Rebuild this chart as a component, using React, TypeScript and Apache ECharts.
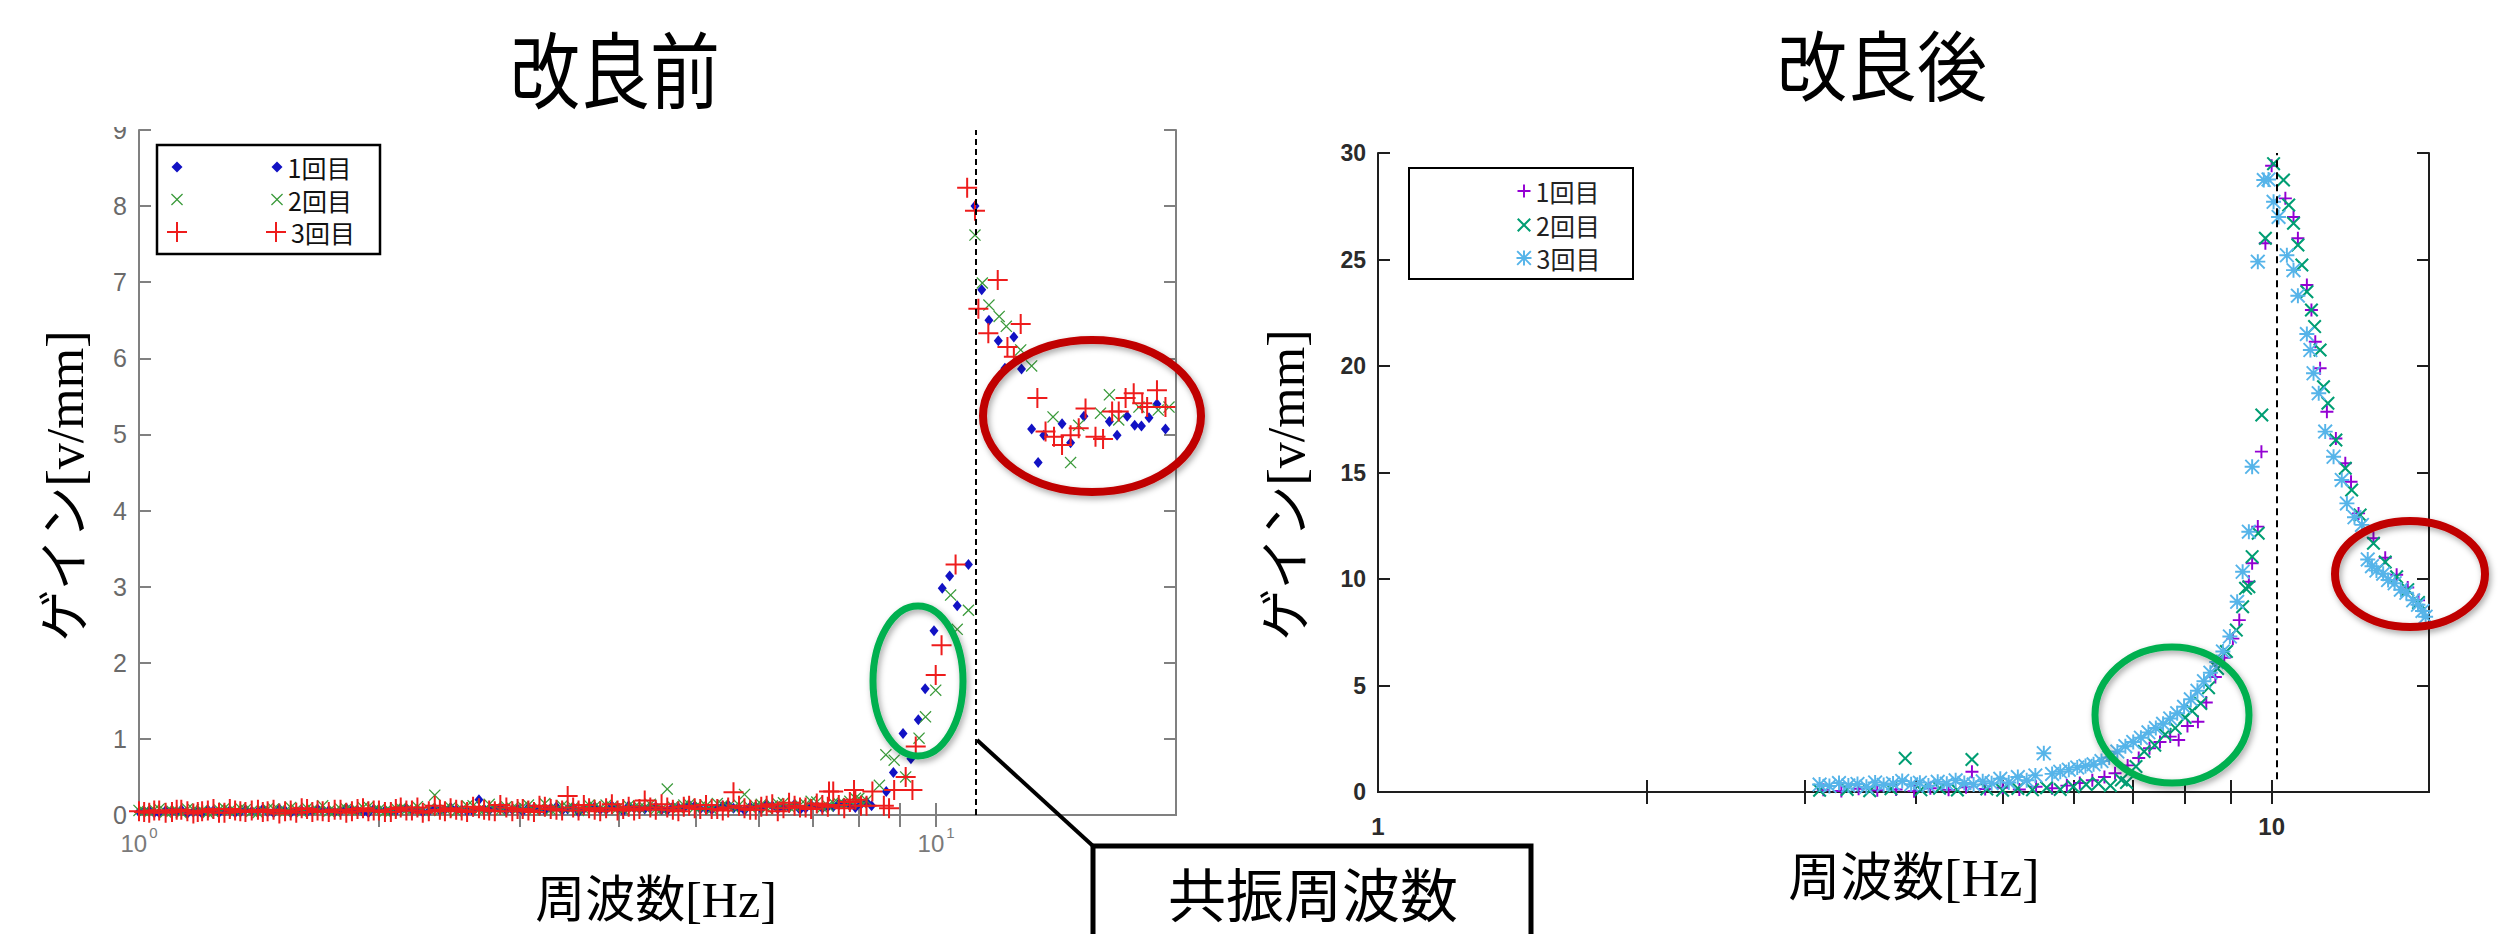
import React, { useEffect, useRef } from 'react';
import * as echarts from 'echarts';

// ================= 改良前 (left chart) =================
const leftLowFreq = [
  1.0, 1.03, 1.06, 1.1, 1.13, 1.17, 1.2, 1.24, 1.28, 1.32, 1.36, 1.41, 1.45, 1.5, 1.55, 1.6, 1.65, 1.7, 1.76, 1.82,
  1.88, 1.94, 2.0, 2.07, 2.13, 2.2, 2.27, 2.35, 2.42, 2.5, 2.58, 2.67, 2.75, 2.84, 2.94, 3.03, 3.13, 3.23, 3.34, 3.45,
  3.56, 3.67, 3.79, 3.92, 4.05, 4.18, 4.31, 4.45, 4.6, 4.75, 4.9, 5.06, 5.23, 5.4, 5.57, 5.75, 5.94, 6.13, 6.33, 6.54,
  6.75, 6.97, 7.2, 7.43, 7.67, 7.92, 8.18,
];
const leftBlueLow = [
  0.04, 0.06, 0.03, 0.05, 0.07, 0.04, 0.02, 0.06, 0.05, 0.03, 0.07, 0.05, 0.04, 0.08, 0.03, 0.06, 0.05, 0.07, 0.04, 0.09,
  0.06, 0.03, 0.07, 0.05, 0.08, 0.06, 0.04, 0.09, 0.07, 0.07, 0.05, 0.2, 0.06, 0.1, 0.07, 0.05, 0.09, 0.06, 0.11, 0.08,
  0.04, 0.1, 0.07, 0.12, 0.05, 0.09, 0.08, 0.11, 0.06, 0.1, 0.13, 0.08, 0.07, 0.12, 0.09, 0.06, 0.11, 0.14, 0.08, 0.1,
  0.07, 0.13, 0.09, 0.11, 0.15, 0.1, 0.17,
];
const leftGreenLow = [
  0.06, 0.04, 0.08, 0.05, 0.03, 0.07, 0.06, 0.04, 0.09, 0.05, 0.07, 0.03, 0.08, 0.06, 0.1, 0.04, 0.07, 0.12, 0.05, 0.08,
  0.06, 0.11, 0.07, 0.05, 0.09, 0.07, 0.06, 0.26, 0.08, 0.05, 0.12, 0.07, 0.14, 0.06, 0.09, 0.11, 0.07, 0.15, 0.08, 0.1,
  0.06, 0.13, 0.09, 0.11, 0.07, 0.1, 0.1, 0.08, 0.34, 0.09, 0.14, 0.11, 0.08, 0.13, 0.1, 0.27, 0.12, 0.09, 0.15, 0.11,
  0.13, 0.18, 0.1, 0.16, 0.14, 0.22, 0.19,
];
const leftRedLow = [
  0.05, 0.03, 0.06, 0.04, 0.07, 0.02, 0.05, 0.08, 0.03, 0.06, 0.04, 0.07, 0.05, 0.02, 0.06, 0.09, 0.04, 0.05, 0.07, 0.03,
  0.08, 0.05, 0.06, 0.04, 0.1, 0.06, 0.03, 0.12, 0.05, 0.07, 0.04, 0.09, 0.06, 0.13, 0.05, 0.08, 0.04, 0.11, 0.07, 0.25,
  0.06, 0.09, 0.05, 0.14, 0.08, 0.06, 0.19, 0.07, 0.1, 0.05, 0.12, 0.08, 0.08, 0.06, 0.3, 0.09, 0.07, 0.12, 0.05, 0.16,
  0.1, 0.08, 0.13, 0.31, 0.09, 0.2, 0.12,
];
// second, interleaved sweep of the low range (denser band near zero)
const leftLowFreqB = [
  1.015, 1.045, 1.08, 1.115, 1.15, 1.185, 1.22, 1.26, 1.3, 1.34, 1.385, 1.43, 1.475, 1.525, 1.575, 1.625, 1.675, 1.73,
  1.79, 1.85, 1.91, 1.97, 2.035, 2.1, 2.165, 2.235, 2.31, 2.385, 2.46, 2.54, 2.625, 2.71, 2.795, 2.89, 2.985, 3.08,
  3.18, 3.285, 3.395, 3.505, 3.615, 3.73, 3.855, 3.985, 4.115, 4.245, 4.38, 4.525, 4.675, 4.825, 4.98, 5.145, 5.315,
  5.485, 5.66, 5.845, 6.035, 6.23, 6.435, 6.645, 6.86, 7.085, 7.315, 7.55, 7.795, 8.05,
];
const leftBlueLowB = [
  0.05, 0.03, 0.06, 0.04, 0.02, 0.05, 0.07, 0.03, 0.06, 0.04, 0.05, 0.08, 0.03, 0.06, 0.05, 0.04, 0.08, 0.06, 0.05, 0.07,
  0.04, 0.08, 0.06, 0.05, 0.09, 0.07, 0.05, 0.06, 0.1, 0.07, 0.05, 0.08, 0.09, 0.06, 0.08, 0.1, 0.07, 0.09, 0.06, 0.1,
  0.08, 0.11, 0.07, 0.09, 0.12, 0.08, 0.1, 0.07, 0.11, 0.09, 0.12, 0.08, 0.1, 0.13, 0.09, 0.11, 0.08, 0.12, 0.1, 0.14,
  0.09, 0.12, 0.11, 0.15, 0.12, 0.14,
];
const leftGreenLowB = [
  0.05, 0.07, 0.04, 0.06, 0.08, 0.05, 0.03, 0.07, 0.06, 0.09, 0.05, 0.06, 0.08, 0.05, 0.07, 0.09, 0.06, 0.05, 0.08, 0.06,
  0.1, 0.07, 0.05, 0.09, 0.07, 0.11, 0.08, 0.06, 0.1, 0.08, 0.12, 0.07, 0.09, 0.11, 0.08, 0.13, 0.09, 0.07, 0.12, 0.1,
  0.08, 0.11, 0.13, 0.09, 0.12, 0.1, 0.14, 0.08, 0.11, 0.13, 0.1, 0.12, 0.15, 0.11, 0.13, 0.1, 0.14, 0.12, 0.16, 0.11,
  0.14, 0.17, 0.12, 0.15, 0.18, 0.16,
];
const leftRedLowB = [
  0.04, 0.06, 0.03, 0.07, 0.05, 0.04, 0.06, 0.03, 0.08, 0.05, 0.06, 0.04, 0.07, 0.05, 0.03, 0.08, 0.06, 0.04, 0.07, 0.05,
  0.09, 0.06, 0.04, 0.08, 0.06, 0.1, 0.05, 0.07, 0.09, 0.06, 0.11, 0.07, 0.05, 0.1, 0.08, 0.06, 0.12, 0.08, 0.06, 0.1,
  0.13, 0.07, 0.09, 0.06, 0.11, 0.08, 0.1, 0.14, 0.07, 0.11, 0.09, 0.13, 0.08, 0.1, 0.12, 0.07, 0.11, 0.14, 0.09, 0.12,
  0.1, 0.15, 0.11, 0.13, 0.17, 0.12,
];
const leftBlueHigh = [
  [8.3, 0.12], [8.66, 0.31], [8.84, 0.56], [9.09, 1.07], [9.3, 0.74], [9.5, 1.25], [9.69, 1.66], [9.94, 2.42],
  [10.18, 2.98], [10.4, 3.14], [10.63, 2.75], [10.98, 3.29], [11.19, 8.0], [11.41, 6.9], [11.65, 6.5], [11.97, 6.23],
  [12.2, 5.87], [12.52, 6.28], [12.8, 5.86], [13.18, 5.07], [13.43, 4.63], [13.65, 4.99], [14.39, 5.14], [14.75, 4.89],
  [15.33, 5.24], [16.5, 5.17], [16.87, 4.99], [17.37, 5.24], [17.75, 5.12], [18.1, 5.11], [18.5, 5.22], [18.93, 5.4],
  [19.4, 5.07],
];
const leftGreenHigh = [
  [8.0, 0.22], [8.49, 0.39], [8.65, 0.79], [8.86, 0.72], [9.16, 0.5], [9.52, 1.01], [9.7, 1.29], [9.99, 1.64],
  [10.43, 2.89], [10.63, 2.44], [10.98, 2.69], [11.19, 7.62], [11.43, 6.99], [11.65, 6.7], [12.0, 6.55], [12.25, 6.42],
  [12.77, 6.11], [13.18, 5.9], [14.02, 5.23], [14.75, 4.63], [15.1, 5.12], [16.08, 5.28], [16.5, 5.52], [16.95, 5.19],
  [17.97, 5.36], [19.0, 5.32], [19.6, 5.36],
];
const leftRedHigh = [
  [7.34, 0.31], [7.89, 0.33], [8.32, 0.31], [8.6, 0.12], [8.73, 0.09], [8.86, 0.33], [9.16, 0.5], [9.34, 0.33],
  [9.43, 0.9], [9.99, 1.84], [10.16, 2.23], [10.58, 3.29], [10.94, 8.24], [11.19, 7.94], [11.3, 6.65], [11.63, 6.33],
  [11.95, 7.03], [12.29, 6.15], [12.52, 6.02], [12.77, 6.45], [13.4, 5.48], [13.72, 5.04], [14.06, 4.97], [14.39, 4.86],
  [14.75, 4.99], [15.1, 5.08], [15.4, 5.34], [15.85, 4.97], [16.2, 4.94], [16.63, 5.3], [16.95, 5.3], [17.29, 5.48],
  [17.7, 5.54], [18.14, 5.41], [18.4, 5.36], [18.93, 5.58], [19.4, 5.36],
];
const leftResonance = 11.2;
const leftXMin = 1;
const leftXMax = 20;
const leftYMin = 0;
const leftYMax = 9;
const leftYInterval = 1;
const leftXMinorTicks = [2, 3, 4, 5, 6, 7, 8, 9, 10];
const leftXLabelValues = [1, 10];
const leftXLabelExps = ['0', '1'];

// ================= 改良後 (right chart) =================
const rightPurple = [
  [3.15, 0.1], [3.3, 0.05], [3.45, 0.15], [3.62, 0.08], [3.8, 0.12], [3.98, 0.04], [4.15, 0.18], [4.35, 0.1],
  [4.55, 0.22], [4.62, 0.95], [4.78, 0.14], [5.0, 0.2], [5.22, 0.12], [5.45, 0.25], [5.68, 0.18], [5.9, 0.3],
  [6.1, 0.42], [6.3, 0.55], [6.5, 0.7], [6.68, 0.88], [6.9, 1.25], [7.1, 1.6], [7.3, 2.05], [7.5, 2.35], [7.7, 2.6],
  [7.87, 2.44], [8.05, 3.1], [8.27, 3.3], [8.45, 4.2], [8.65, 5.4], [8.85, 6.3], [9.05, 7.2], [9.2, 8.07], [9.43, 9.87],
  [9.51, 10.74], [9.65, 12.46], [9.74, 15.98], [9.84, 25.76], [10.0, 29.4], [10.36, 27.87], [10.58, 27.0],
  [10.7, 26.0], [10.95, 23.8], [11.08, 22.63], [11.19, 21.14], [11.33, 19.89], [11.53, 17.85], [11.8, 16.6],
  [12.09, 15.43], [12.27, 14.57], [12.51, 13.08], [13.0, 11.91], [13.4, 11.0], [13.8, 10.2], [14.2, 9.6], [14.6, 9.0],
];
const rightGreen = [
  [3.12, 0.08], [3.35, 0.12], [3.55, 0.06], [3.75, 0.15], [3.89, 1.58], [4.05, 0.1], [4.25, 0.18], [4.45, 0.09],
  [4.62, 1.53], [4.8, 0.14], [5.0, 0.08], [5.2, 0.16], [5.4, 0.1], [5.6, 0.2], [5.8, 0.12], [6.0, 0.25], [6.2, 0.35],
  [6.4, 0.4], [6.6, 0.3], [6.79, 0.56], [6.88, 0.45], [7.05, 1.2], [7.2, 1.9], [7.4, 2.2], [7.6, 2.7], [7.8, 3.0],
  [8.0, 3.5], [8.15, 3.8], [8.33, 4.16], [8.5, 4.9], [8.7, 5.8], [8.9, 6.6], [9.13, 7.6], [9.28, 8.7], [9.35, 9.56],
  [9.43, 9.64], [9.51, 11.05], [9.66, 12.15], [9.75, 17.7], [9.84, 26.0], [10.05, 29.5], [10.31, 28.73],
  [10.45, 27.56], [10.58, 26.7], [10.7, 25.68], [10.81, 24.74], [10.95, 23.49], [11.08, 22.63], [11.17, 21.85],
  [11.33, 20.75], [11.43, 19.03], [11.56, 18.25], [11.8, 16.53], [12.09, 15.2], [12.29, 14.18], [12.56, 13.0],
  [13.0, 11.68], [13.4, 10.8], [13.8, 10.1], [14.2, 9.5], [14.6, 8.9],
];
const rightBlue = [
  [3.12, 0.35], [3.2, 0.28], [3.28, 0.42], [3.36, 0.31], [3.44, 0.38], [3.52, 0.25], [3.6, 0.45], [3.68, 0.33],
  [3.77, 0.4], [3.86, 0.52], [3.95, 0.36], [4.04, 0.44], [4.13, 0.3], [4.23, 0.48], [4.33, 0.39], [4.43, 0.55],
  [4.53, 0.42], [4.64, 0.35], [4.75, 0.5], [4.86, 0.41], [4.97, 0.62], [5.08, 0.45], [5.2, 0.7], [5.32, 0.55],
  [5.44, 0.78], [5.56, 1.82], [5.68, 0.85], [5.8, 0.95], [5.93, 1.05], [6.06, 1.15], [6.19, 1.22], [6.32, 1.3],
  [6.45, 1.45], [6.58, 1.62], [6.72, 1.9], [6.86, 2.15], [7.0, 2.35], [7.14, 2.55], [7.28, 2.8], [7.42, 3.0],
  [7.56, 3.2], [7.7, 3.45], [7.84, 3.7], [7.98, 4.0], [8.12, 4.35], [8.26, 4.75], [8.4, 5.2], [8.54, 5.6], [8.68, 6.1],
  [8.82, 6.6], [8.98, 7.3], [9.15, 8.93], [9.28, 10.34], [9.43, 12.22], [9.51, 15.27], [9.65, 24.9], [9.8, 28.73],
  [9.92, 28.76], [10.05, 27.71], [10.18, 27.0], [10.4, 25.2], [10.58, 24.5], [10.7, 23.3], [10.95, 21.5],
  [11.05, 20.75], [11.14, 19.66], [11.29, 18.72], [11.48, 16.92], [11.73, 15.74], [11.98, 14.65], [12.14, 13.55],
  [12.38, 12.9], [12.62, 12.54], [12.81, 10.92], [12.95, 10.6], [13.1, 10.4], [13.33, 10.25], [13.5, 9.95],
  [13.73, 9.8], [13.95, 9.5], [14.15, 9.35], [14.4, 9.0], [14.58, 8.79], [14.75, 8.5], [14.87, 8.23],
];
const rightResonance = 10.13;
const rightXMin = 1;
const rightXMax = 15;
const rightYMin = 0;
const rightYMax = 30;
const rightYInterval = 5;
const rightXMinorTicks = [2, 3, 4, 5, 6, 7, 8, 9, 10];
const rightXLabelValues = [1, 10];
const rightXLabels = ['1', '10'];

const seriesLabels = ['1回目', '2回目', '3回目'];

// ================= symbols =================
const plusPath = (w: number) => {
  const a = 10 - w / 2;
  const b = 10 + w / 2;
  return `M${a},0L${b},0L${b},${a}L20,${a}L20,${b}L${b},${b}L${b},20L${a},20L${a},${b}L0,${b}L0,${a}L${a},${a}Z`;
};
const crossPath = (d: number) =>
  `M0,${d}L${d},0L10,${10 - d}L${20 - d},0L20,${d}L${10 + d},10L20,${20 - d}L${20 - d},20L10,${10 + d}L${d},20L0,${20 - d}L${10 - d},10Z`;
const SYM_PLUS_THIN = 'path://' + plusPath(2);
const SYM_CROSS_THIN = 'path://' + crossPath(1.5);
const SYM_PLUS_R = 'path://' + plusPath(3);
const SYM_CROSS_R = 'path://' + crossPath(2.1);
const SYM_STAR_R = 'path://' + plusPath(2.6) + crossPath(1.8);

const LEFT_AXIS_COLOR = '#808080';
const RIGHT_AXIS_COLOR = '#1e1e1e';
const SANS_JP = "'Noto Sans CJK JP', 'Noto Sans', sans-serif";
const SERIF_JP = "'Liberation Serif', 'Noto Sans CJK JP', serif";

function legendItem(name: string, label: string, cx: number, cy: number, size: number, withText: boolean, color: string, fontSize: number) {
  const lh = fontSize + 2;
  const h = withText ? Math.max(size, lh) : size;
  return {
    data: [name],
    orient: 'vertical',
    left: cx - size / 2,
    top: cy - h / 2,
    padding: 0,
    itemGap: 0,
    itemWidth: size,
    itemHeight: size,
    selectedMode: false,
    formatter: withText ? () => label : () => '',
    textStyle: withText
      ? { fontSize, lineHeight: lh, color, fontFamily: SANS_JP }
      : { fontSize: 1, lineHeight: 1, color: 'rgba(0,0,0,0)' },
  };
}

export default function App() {
  const ref = useRef<HTMLDivElement>(null);

  useEffect(() => {
    if (!ref.current) return;
    const chart = echarts.init(ref.current, null, { renderer: 'svg' });

    const l1 = leftLowFreq.map((f, i) => [f, leftBlueLow[i]])
      .concat(leftLowFreqB.map((f, i) => [f, leftBlueLowB[i]]))
      .concat(leftBlueHigh);
    const l2 = leftLowFreq.map((f, i) => [f, leftGreenLow[i]])
      .concat(leftLowFreqB.map((f, i) => [f, leftGreenLowB[i]]))
      .concat(leftGreenHigh);
    const l3 = leftLowFreq.map((f, i) => [f, leftRedLow[i]])
      .concat(leftLowFreqB.map((f, i) => [f, leftRedLowB[i]]))
      .concat(leftRedHigh);

    const leftTick = { show: true, inside: true, length: 12, lineStyle: { color: LEFT_AXIS_COLOR, width: 2 } };
    const rightTick = { show: true, inside: true, length: 12, lineStyle: { color: RIGHT_AXIS_COLOR, width: 2 } };

    const shadow = { shadowBlur: 6, shadowColor: 'rgba(0,0,0,0.35)', shadowOffsetX: 2, shadowOffsetY: 3 };

    const option: any = {
      animation: false,
      backgroundColor: '#ffffff',
      grid: [
        { left: 139, top: 130, width: 1037, height: 685, outerBoundsMode: 'none' },
        { left: 1378, top: 153, width: 1051, height: 639, outerBoundsMode: 'none' },
      ],
      xAxis: [
        {
          type: 'log', logBase: 10, gridIndex: 0, position: 'bottom', min: leftXMin, max: leftXMax,
          axisLine: { show: true, lineStyle: { color: LEFT_AXIS_COLOR, width: 2 } },
          axisTick: { ...leftTick, customValues: leftXMinorTicks },
          axisLabel: {
            customValues: leftXLabelValues,
            margin: 10,
            formatter: (v: number) => {
              const i = leftXLabelValues.findIndex((x) => Math.abs(x - v) < 1e-6);
              return `{b|10}{s|${i >= 0 ? leftXLabelExps[i] : ''}}`;
            },
            rich: {
              b: { fontSize: 24, color: '#7a7a7a', fontFamily: 'Liberation Sans', verticalAlign: 'bottom', lineHeight: 30 },
              s: { fontSize: 15, color: '#7a7a7a', fontFamily: 'Liberation Sans', verticalAlign: 'top', lineHeight: 30, padding: [0, 0, 0, 2] },
            },
          },
          splitLine: { show: false },
        },
        {
          type: 'log', logBase: 10, gridIndex: 0, position: 'top', min: leftXMin, max: leftXMax,
          axisLine: { show: true, lineStyle: { color: LEFT_AXIS_COLOR, width: 2 } },
          axisTick: { ...leftTick, customValues: leftXMinorTicks },
          axisLabel: { show: false },
          splitLine: { show: false },
        },
        {
          type: 'log', logBase: 10, gridIndex: 1, position: 'bottom', min: rightXMin, max: rightXMax,
          axisLine: { show: true, lineStyle: { color: RIGHT_AXIS_COLOR, width: 2 } },
          axisTick: { ...rightTick, customValues: rightXMinorTicks },
          axisLabel: {
            customValues: rightXLabelValues,
            margin: 22,
            formatter: (v: number) => {
              const i = rightXLabelValues.findIndex((x) => Math.abs(x - v) < 1e-6);
              return i >= 0 ? rightXLabels[i] : '';
            },
            fontSize: 24, fontWeight: 'bold', color: '#2b2b2b', fontFamily: 'Liberation Sans',
          },
          splitLine: { show: false },
        },
        {
          type: 'log', logBase: 10, gridIndex: 1, position: 'top', min: rightXMin, max: rightXMax,
          axisLine: { show: true, lineStyle: { color: RIGHT_AXIS_COLOR, width: 2 } },
          axisTick: { ...rightTick, customValues: rightXMinorTicks },
          axisLabel: { show: false },
          splitLine: { show: false },
        },
      ],
      yAxis: [
        {
          type: 'value', gridIndex: 0, position: 'left', min: leftYMin, max: leftYMax, interval: leftYInterval,
          axisLine: { show: true, lineStyle: { color: LEFT_AXIS_COLOR, width: 2 } },
          axisTick: leftTick,
          axisLabel: { margin: 12, fontSize: 25, color: '#6a6a6a', fontFamily: 'Liberation Sans' },
          splitLine: { show: false },
        },
        {
          type: 'value', gridIndex: 0, position: 'right', min: leftYMin, max: leftYMax, interval: leftYInterval,
          axisLine: { show: true, lineStyle: { color: LEFT_AXIS_COLOR, width: 2 } },
          axisTick: leftTick,
          axisLabel: { show: false },
          splitLine: { show: false },
        },
        {
          type: 'value', gridIndex: 1, position: 'left', min: rightYMin, max: rightYMax, interval: rightYInterval,
          axisLine: { show: true, lineStyle: { color: RIGHT_AXIS_COLOR, width: 2 } },
          axisTick: rightTick,
          axisLabel: { margin: 12, fontSize: 23, fontWeight: 'bold', color: '#2b2b2b', fontFamily: 'Liberation Sans' },
          splitLine: { show: false },
        },
        {
          type: 'value', gridIndex: 1, position: 'right', min: rightYMin, max: rightYMax, interval: rightYInterval,
          axisLine: { show: true, lineStyle: { color: RIGHT_AXIS_COLOR, width: 2 } },
          axisTick: rightTick,
          axisLabel: { show: false },
          splitLine: { show: false },
        },
      ],
      legend: [
        legendItem('L1', seriesLabels[0], 177, 167, 11, false, '#111', 25),
        legendItem('L2', seriesLabels[1], 177, 199.5, 12, false, '#111', 25),
        legendItem('L3', seriesLabels[2], 177, 232, 20, false, '#111', 25),
        legendItem('L1', seriesLabels[0], 277, 167, 11, true, '#111', 25),
        legendItem('L2', seriesLabels[1], 277, 199.5, 12, true, '#111', 25),
        legendItem('L3', seriesLabels[2], 276, 232, 20, true, '#111', 25),
        legendItem('R1', seriesLabels[0], 1524, 191, 13, true, '#222', 25),
        legendItem('R2', seriesLabels[1], 1524, 225, 14, true, '#222', 25),
        legendItem('R3', seriesLabels[2], 1524, 258, 15, true, '#222', 25),
      ],
      series: [
        {
          type: 'scatter', name: 'L1', xAxisIndex: 0, yAxisIndex: 0, data: l1,
          symbol: 'diamond', symbolSize: [9, 11], itemStyle: { color: '#1212c4', opacity: 1 },
          markLine: {
            silent: true, symbol: ['none', 'none'], label: { show: false },
            lineStyle: { color: '#000', width: 2, type: [6, 4] },
            data: [{ xAxis: leftResonance }],
          },
        },
        {
          type: 'scatter', name: 'L2', xAxisIndex: 0, yAxisIndex: 0, data: l2,
          symbol: SYM_CROSS_THIN, symbolSize: 12, itemStyle: { color: '#3a9a3a', opacity: 1 },
        },
        {
          type: 'scatter', name: 'L3', xAxisIndex: 0, yAxisIndex: 0, data: l3,
          symbol: SYM_PLUS_THIN, symbolSize: 20, itemStyle: { color: '#ee1c1c', opacity: 1 },
        },
        {
          type: 'scatter', name: 'R1', xAxisIndex: 2, yAxisIndex: 2, data: rightPurple,
          symbol: SYM_PLUS_R, symbolSize: 13, itemStyle: { color: '#9400d3', opacity: 1 },
          markLine: {
            silent: true, symbol: ['none', 'none'], label: { show: false },
            lineStyle: { color: '#000', width: 2, type: [7, 5] },
            data: [[{ coord: [rightResonance, 0.6] }, { coord: [rightResonance, 30] }]],
          },
        },
        {
          type: 'scatter', name: 'R2', xAxisIndex: 2, yAxisIndex: 2, data: rightGreen,
          symbol: SYM_CROSS_R, symbolSize: 14, itemStyle: { color: '#009e73', opacity: 1 },
        },
        {
          type: 'scatter', name: 'R3', xAxisIndex: 2, yAxisIndex: 2, data: rightBlue,
          symbol: SYM_STAR_R, symbolSize: 15, itemStyle: { color: '#56b4e9', opacity: 1 },
        },
      ],
      graphic: [
        // clip of the top "9" label (source image is cut)
        { type: 'rect', shape: { x: 95, y: 0, width: 42, height: 127 }, style: { fill: '#ffffff' }, z: 50 },
        // legend frames
        { type: 'rect', shape: { x: 157, y: 145, width: 223, height: 109 }, style: { fill: '#ffffff', stroke: '#000', lineWidth: 2.5 }, z: 3 },
        { type: 'rect', shape: { x: 1409, y: 168, width: 224, height: 111 }, style: { fill: '#ffffff', stroke: '#000', lineWidth: 2 }, z: 3 },
        // titles
        { type: 'text', x: 615, y: 66, scaleY: 1.18, z: 100, style: { text: '改良前', fontSize: 70, fontFamily: SANS_JP, fill: '#000', align: 'center', verticalAlign: 'middle' } },
        { type: 'text', x: 1882, y: 62, scaleY: 1.08, z: 100, style: { text: '改良後', fontSize: 70, fontFamily: SANS_JP, fill: '#000', align: 'center', verticalAlign: 'middle' } },
        // axis titles
        { type: 'text', x: 65, y: 486, rotation: Math.PI / 2, z: 100, style: { text: 'ゲイン[v/mm]', fontSize: 52, fontFamily: SERIF_JP, fill: '#000', align: 'center', verticalAlign: 'middle' } },
        { type: 'text', x: 1286, y: 485, rotation: Math.PI / 2, z: 100, style: { text: 'ゲイン[v/mm]', fontSize: 52, fontFamily: SERIF_JP, fill: '#000', align: 'center', verticalAlign: 'middle' } },
        { type: 'text', x: 656, y: 900, z: 100, style: { text: '周波数[Hz]', fontSize: 50, fontFamily: SERIF_JP, fill: '#000', align: 'center', verticalAlign: 'middle' } },
        { type: 'text', x: 1914, y: 878, z: 100, style: { text: '周波数[Hz]', fontSize: 52, fontFamily: SERIF_JP, fill: '#000', align: 'center', verticalAlign: 'middle' } },
        // annotation ellipses
        { type: 'ellipse', z: 100, shape: { cx: 918, cy: 681, rx: 45, ry: 75 }, style: { fill: 'none', stroke: '#00b050', lineWidth: 7, ...shadow } },
        { type: 'ellipse', z: 100, shape: { cx: 1092, cy: 416, rx: 109, ry: 76 }, style: { fill: 'none', stroke: '#c00000', lineWidth: 8, ...shadow } },
        { type: 'ellipse', z: 100, shape: { cx: 2172, cy: 715, rx: 77, ry: 68 }, style: { fill: 'none', stroke: '#00b050', lineWidth: 7, ...shadow } },
        { type: 'ellipse', z: 100, shape: { cx: 2410, cy: 574, rx: 75, ry: 53 }, style: { fill: 'none', stroke: '#c00000', lineWidth: 8, ...shadow } },
        // callout
        { type: 'line', z: 100, shape: { x1: 977, y1: 740, x2: 1093, y2: 846 }, style: { stroke: '#000', lineWidth: 4 } },
        { type: 'rect', z: 100, shape: { x: 1093, y: 846, width: 438, height: 120 }, style: { fill: '#ffffff', stroke: '#000', lineWidth: 5 } },
        { type: 'text', x: 1313, y: 892, z: 101, style: { text: '共振周波数', fontSize: 58, fontFamily: SANS_JP, fill: '#000', align: 'center', verticalAlign: 'middle' } },
      ],
    };

    chart.setOption(option);
    return () => chart.dispose();
  }, []);

  return (
    <div
      ref={ref}
      style={{ position: 'absolute', left: 0, top: 0, width: 2508, height: 934, background: '#fff' }}
    />
  );
}
